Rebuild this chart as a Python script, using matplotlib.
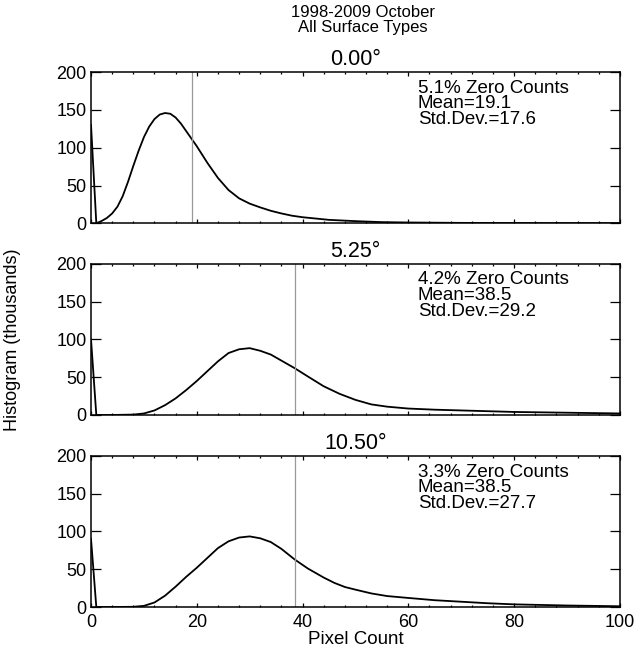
import matplotlib
matplotlib.use("Agg")
import matplotlib.pyplot as plt
from matplotlib.ticker import MultipleLocator

plt.rcParams['font.family'] = ['Liberation Sans', 'DejaVu Sans']

# pixel-count histograms for three viewing angles (values in thousands)
angles = ['0.00°', '5.25°', '10.50°']
zero_pct = [5.1, 4.2, 3.3]
means = [19.1, 38.5, 38.5]
stds = [17.6, 29.2, 27.7]

x_a = [0, 1, 2, 3, 4, 5, 6, 7, 8, 9, 10, 11, 12, 13, 14, 15, 16, 17, 18, 19,
       20, 22, 24, 26, 28, 30, 32, 34, 36, 38, 40, 45, 50, 55, 60, 70, 80, 90, 100]
y_a = [130, 0, 3, 7, 13, 22, 36, 55, 76, 96, 114, 128, 138, 144, 146, 145, 140,
       132, 122, 112, 102, 80, 60, 44, 33, 26, 21, 16.5, 13, 10, 8, 4.5, 2.8,
       1.5, 1, 0.5, 0.3, 0.2, 0.1]

x_b = [0, 1, 4, 8, 10, 12, 14, 16, 18, 20, 22, 24, 26, 28, 30, 32, 34, 36,
       38.5, 41, 44, 47, 50, 53, 56, 60, 65, 70, 75, 80, 90, 100]
y_b = [100, 0, 0, 0.5, 2, 6, 13, 22, 33, 45, 58, 71, 82, 87, 88.5, 85, 80, 72,
       62, 51, 38, 28, 20, 14, 11, 8.5, 7, 6, 5, 4, 3, 2]

x_c = [0, 1, 4, 8, 10, 12, 14, 16, 18, 20, 22, 24, 26, 28, 30, 32, 34, 36,
       38.5, 41, 42, 44, 46, 48, 50, 53, 56, 60, 65, 70, 75, 80, 90, 100]
y_c = [90, 0, 0, 0.3, 1.5, 6, 15, 27, 40, 52, 65, 78, 87, 92, 93.5, 91, 86, 77,
       63, 51, 47, 39, 32, 26.5, 23, 18, 14.5, 12, 9, 7, 5, 3.5, 2, 1]

xs = [x_a, x_b, x_c]
ys = [y_a, y_b, y_c]

fig = plt.figure(figsize=(6.41, 6.49), dpi=100)
left, width, height = 0.142, 0.825, 0.2327
bottoms = [0.656, 0.3606, 0.0647]

for i in range(3):
    ax = fig.add_axes([left, bottoms[i], width, height])
    ax.plot(xs[i], ys[i], color='black', lw=1.3)
    ax.axvline(means[i], color='#999999', lw=0.9)
    ax.set_xlim(0, 100)
    ax.set_ylim(0, 200)
    ax.xaxis.set_major_locator(MultipleLocator(20))
    ax.xaxis.set_minor_locator(MultipleLocator(4))
    ax.yaxis.set_major_locator(MultipleLocator(50))
    # IDL-style ticks: short on x, long on y
    ax.tick_params(which='both', direction='in', top=True, right=True,
                   labelsize=13, width=0.9)
    ax.tick_params(axis='x', which='major', length=3, pad=5)
    ax.tick_params(axis='x', which='minor', length=1.6)
    ax.tick_params(axis='y', which='major', length=7.5, pad=3)
    for s in ax.spines.values():
        s.set_linewidth(1.1)
    if i < 2:
        ax.set_xticklabels([])
    ax.set_title(angles[i], fontsize=15.5, pad=5)
    txt = '%.1f%% Zero Counts\nMean=%.1f\nStd.Dev.=%.1f' % (zero_pct[i], means[i], stds[i])
    ax.text(0.618, 0.95, txt, transform=ax.transAxes, fontsize=13.5,
            va='top', ha='left', linespacing=0.9)

fig.text(0.566, 0.981, '1998-2009 October', ha='center', va='center', fontsize=12)
fig.text(0.566, 0.958, 'All Surface Types', ha='center', va='center', fontsize=12)
fig.text(0.02, 0.476, 'Histogram (thousands)', rotation=90, ha='center',
         va='center', fontsize=13)
fig.text(0.555, 0.014, 'Pixel Count', ha='center', va='center', fontsize=13.5)

fig.savefig('out.png', dpi=100)
